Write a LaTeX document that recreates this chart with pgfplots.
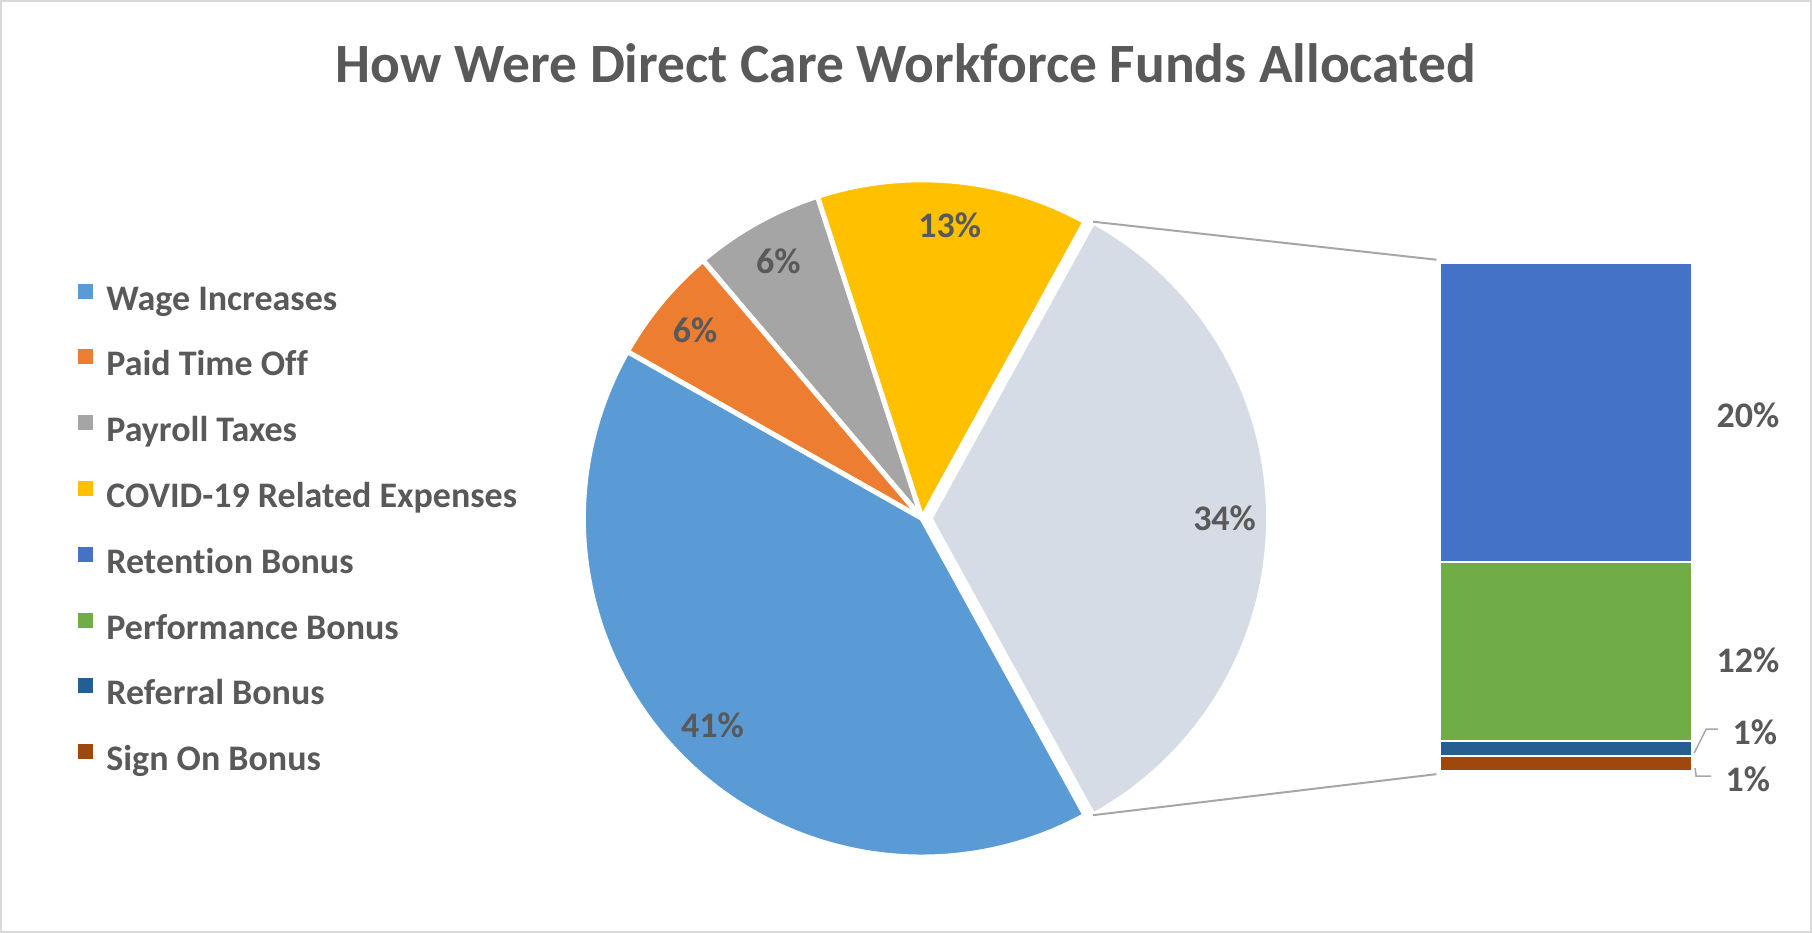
\documentclass[border=0pt]{standalone}
\usepackage{pgfplots}
\usepackage{pgfplotstable}
\pgfplotsset{compat=1.18}
\usepackage{fontspec}
\setmainfont{Carlito}[Ligatures=NoCommon]

\definecolor{txt}{HTML}{595959}
\definecolor{frame}{HTML}{D9D9D9}
\definecolor{conn}{HTML}{A6A6A6}
\definecolor{cWage}{HTML}{5B9BD5}
\definecolor{cPTO}{HTML}{ED7D31}
\definecolor{cPay}{HTML}{A5A5A5}
\definecolor{cCovid}{HTML}{FFC000}
\definecolor{cOther}{HTML}{D6DCE5}
\definecolor{cRet}{HTML}{4472C4}
\definecolor{cPerf}{HTML}{70AD47}
\definecolor{cRef}{HTML}{255E91}
\definecolor{cSign}{HTML}{9E480E}

% main pie, counter-clockwise from the "other" slice
\pgfplotstableread{
value col
34.0 cOther
13.0 cCovid
6.2  cPay
5.6  cPTO
41.2 cWage
}\piedata

\begin{document}
\begin{tikzpicture}[lbl/.style={font=\bfseries\fontsize{14.4}{17}\selectfont, text=txt, inner sep=0pt}]
\def\cx{922}\def\cy{518}\def\rr{339}
\pgfplotstablegetelem{0}{value}\of\piedata
\pgfmathsetmacro{\half}{1.8*\pgfplotsretval}
\pgfmathsetmacro{\angA}{-\half}

\begin{axis}[name=main, scale only axis, width=724.8pt, height=372.8pt,
  xmin=0, xmax=1812, ymin=0, ymax=932, y dir=reverse,
  xtick=\empty, ytick=\empty,
  axis line style={draw=frame, line width=0.8pt}, clip=false,
  legend image code/.code={\fill[#1, draw=none] (0pt,1.4pt) rectangle (6pt,7.4pt);},
  legend cell align=left,
  legend style={at={(axis description cs:0.0425,0.697)}, anchor=north west,
    draw=none, fill=none, inner sep=0pt, row sep=12.2pt, column sep=5.2pt,
    font=\bfseries\fontsize{14.4}{17}\selectfont, text=txt,
    nodes={inner sep=0pt, text height=10pt, text depth=3.5pt}}]

\addlegendimage{fill=cWage}\addlegendentry{Wage Increases}
\addlegendimage{fill=cPTO}\addlegendentry{Paid Time Off}
\addlegendimage{fill=cPay}\addlegendentry{Payroll Taxes}
\addlegendimage{fill=cCovid}\addlegendentry{COVID-19 Related Expenses}
\addlegendimage{fill=cRet}\addlegendentry{Retention Bonus}
\addlegendimage{fill=cPerf}\addlegendentry{Performance Bonus}
\addlegendimage{fill=cRef}\addlegendentry{Referral Bonus}
\addlegendimage{fill=cSign}\addlegendentry{Sign On Bonus}

\pgfplotsforeachungrouped \i in {0,...,4}{%
  \pgfplotstablegetelem{\i}{value}\of\piedata\let\sliceval\pgfplotsretval
  \pgfplotstablegetelem{\i}{col}\of\piedata\let\slicecol\pgfplotsretval
  \pgfmathsetmacro{\angB}{\angA+3.6*\sliceval}
  \pgfmathsetmacro{\angM}{(\angA+\angB)/2}
  \pgfmathsetmacro{\px}{\cx+(\i==0 ? 8 : 0)}
  \pgfmathsetmacro{\lx}{\px+0.87*\rr*cos(\angM)}
  \pgfmathsetmacro{\ly}{\cy-0.87*\rr*sin(\angM)}
  \pgfmathtruncatemacro{\pct}{round(\sliceval)}
  \edef\doslice{%
    \noexpand\addplot[forget plot, fill=\slicecol, draw=white, line width=2pt,
      domain=\angA:\angB, samples=120]
      ({\px+\rr*cos(x)},{\cy-\rr*sin(x)}) -- (axis cs:\px,\cy) -- cycle;
    \noexpand\node[lbl] at (axis cs:\lx,\ly) {\pct\noexpand\%};}%
  \doslice
  \let\angA\angB
}

\node[lbl, font=\bfseries\fontsize{22.2}{26}\selectfont, anchor=base] at (axis cs:906,82)
  {How Were Direct Care Workforce Funds Allocated};

\draw[conn, line width=0.8pt] (axis cs:{\cx+8+\rr*cos(\half)},{\cy-\rr*sin(\half)}) -- (axis cs:1437,259);
\draw[conn, line width=0.8pt] (axis cs:{\cx+8+\rr*cos(\half)},{\cy+\rr*sin(\half)}) -- (axis cs:1437,774);
\coordinate (bartl) at (axis cs:1441,262);
\end{axis}

% secondary bar: the "other" slice split up
\begin{axis}[at={(bartl)}, anchor=north west, scale only axis,
  width=100.8pt, height=203.6pt, xmin=-0.5, xmax=0.5, ymin=0, ymax=34,
  hide axis, ybar stacked, bar width=1, clip=false]
\addplot[fill=cSign, draw=white, line width=0.8pt] coordinates {(0,1)};
\addplot[fill=cRef, draw=white, line width=0.8pt] coordinates {(0,1)};
\addplot[fill=cPerf, draw=white, line width=0.8pt] coordinates {(0,12)};
\addplot[fill=cRet, draw=white, line width=0.8pt] coordinates {(0,20)};

\node[lbl, anchor=west] at ([xshift=9.6pt, yshift=-1.3pt]axis cs:0.5,24) {20\%};
\node[lbl, anchor=west] at ([xshift=9.6pt, yshift=-3.6pt]axis cs:0.5,8) {12\%};
\draw[conn, line width=0.6pt] ([xshift=0.8pt]axis cs:0.5,1.2) -- ++(4.8pt,9.6pt) -- ++(4.8pt,0pt);
\node[lbl, anchor=west] at ([xshift=16pt, yshift=8.4pt]axis cs:0.5,1.2) {1\%};
\draw[conn, line width=0.6pt] ([xshift=1.2pt]axis cs:0.5,0.2) -- ++(0.4pt,-3.2pt) -- ++(6pt,0pt);
\node[lbl, anchor=west] at ([xshift=13.2pt, yshift=-4.4pt]axis cs:0.5,0.2) {1\%};
\end{axis}
\end{tikzpicture}
\end{document}
